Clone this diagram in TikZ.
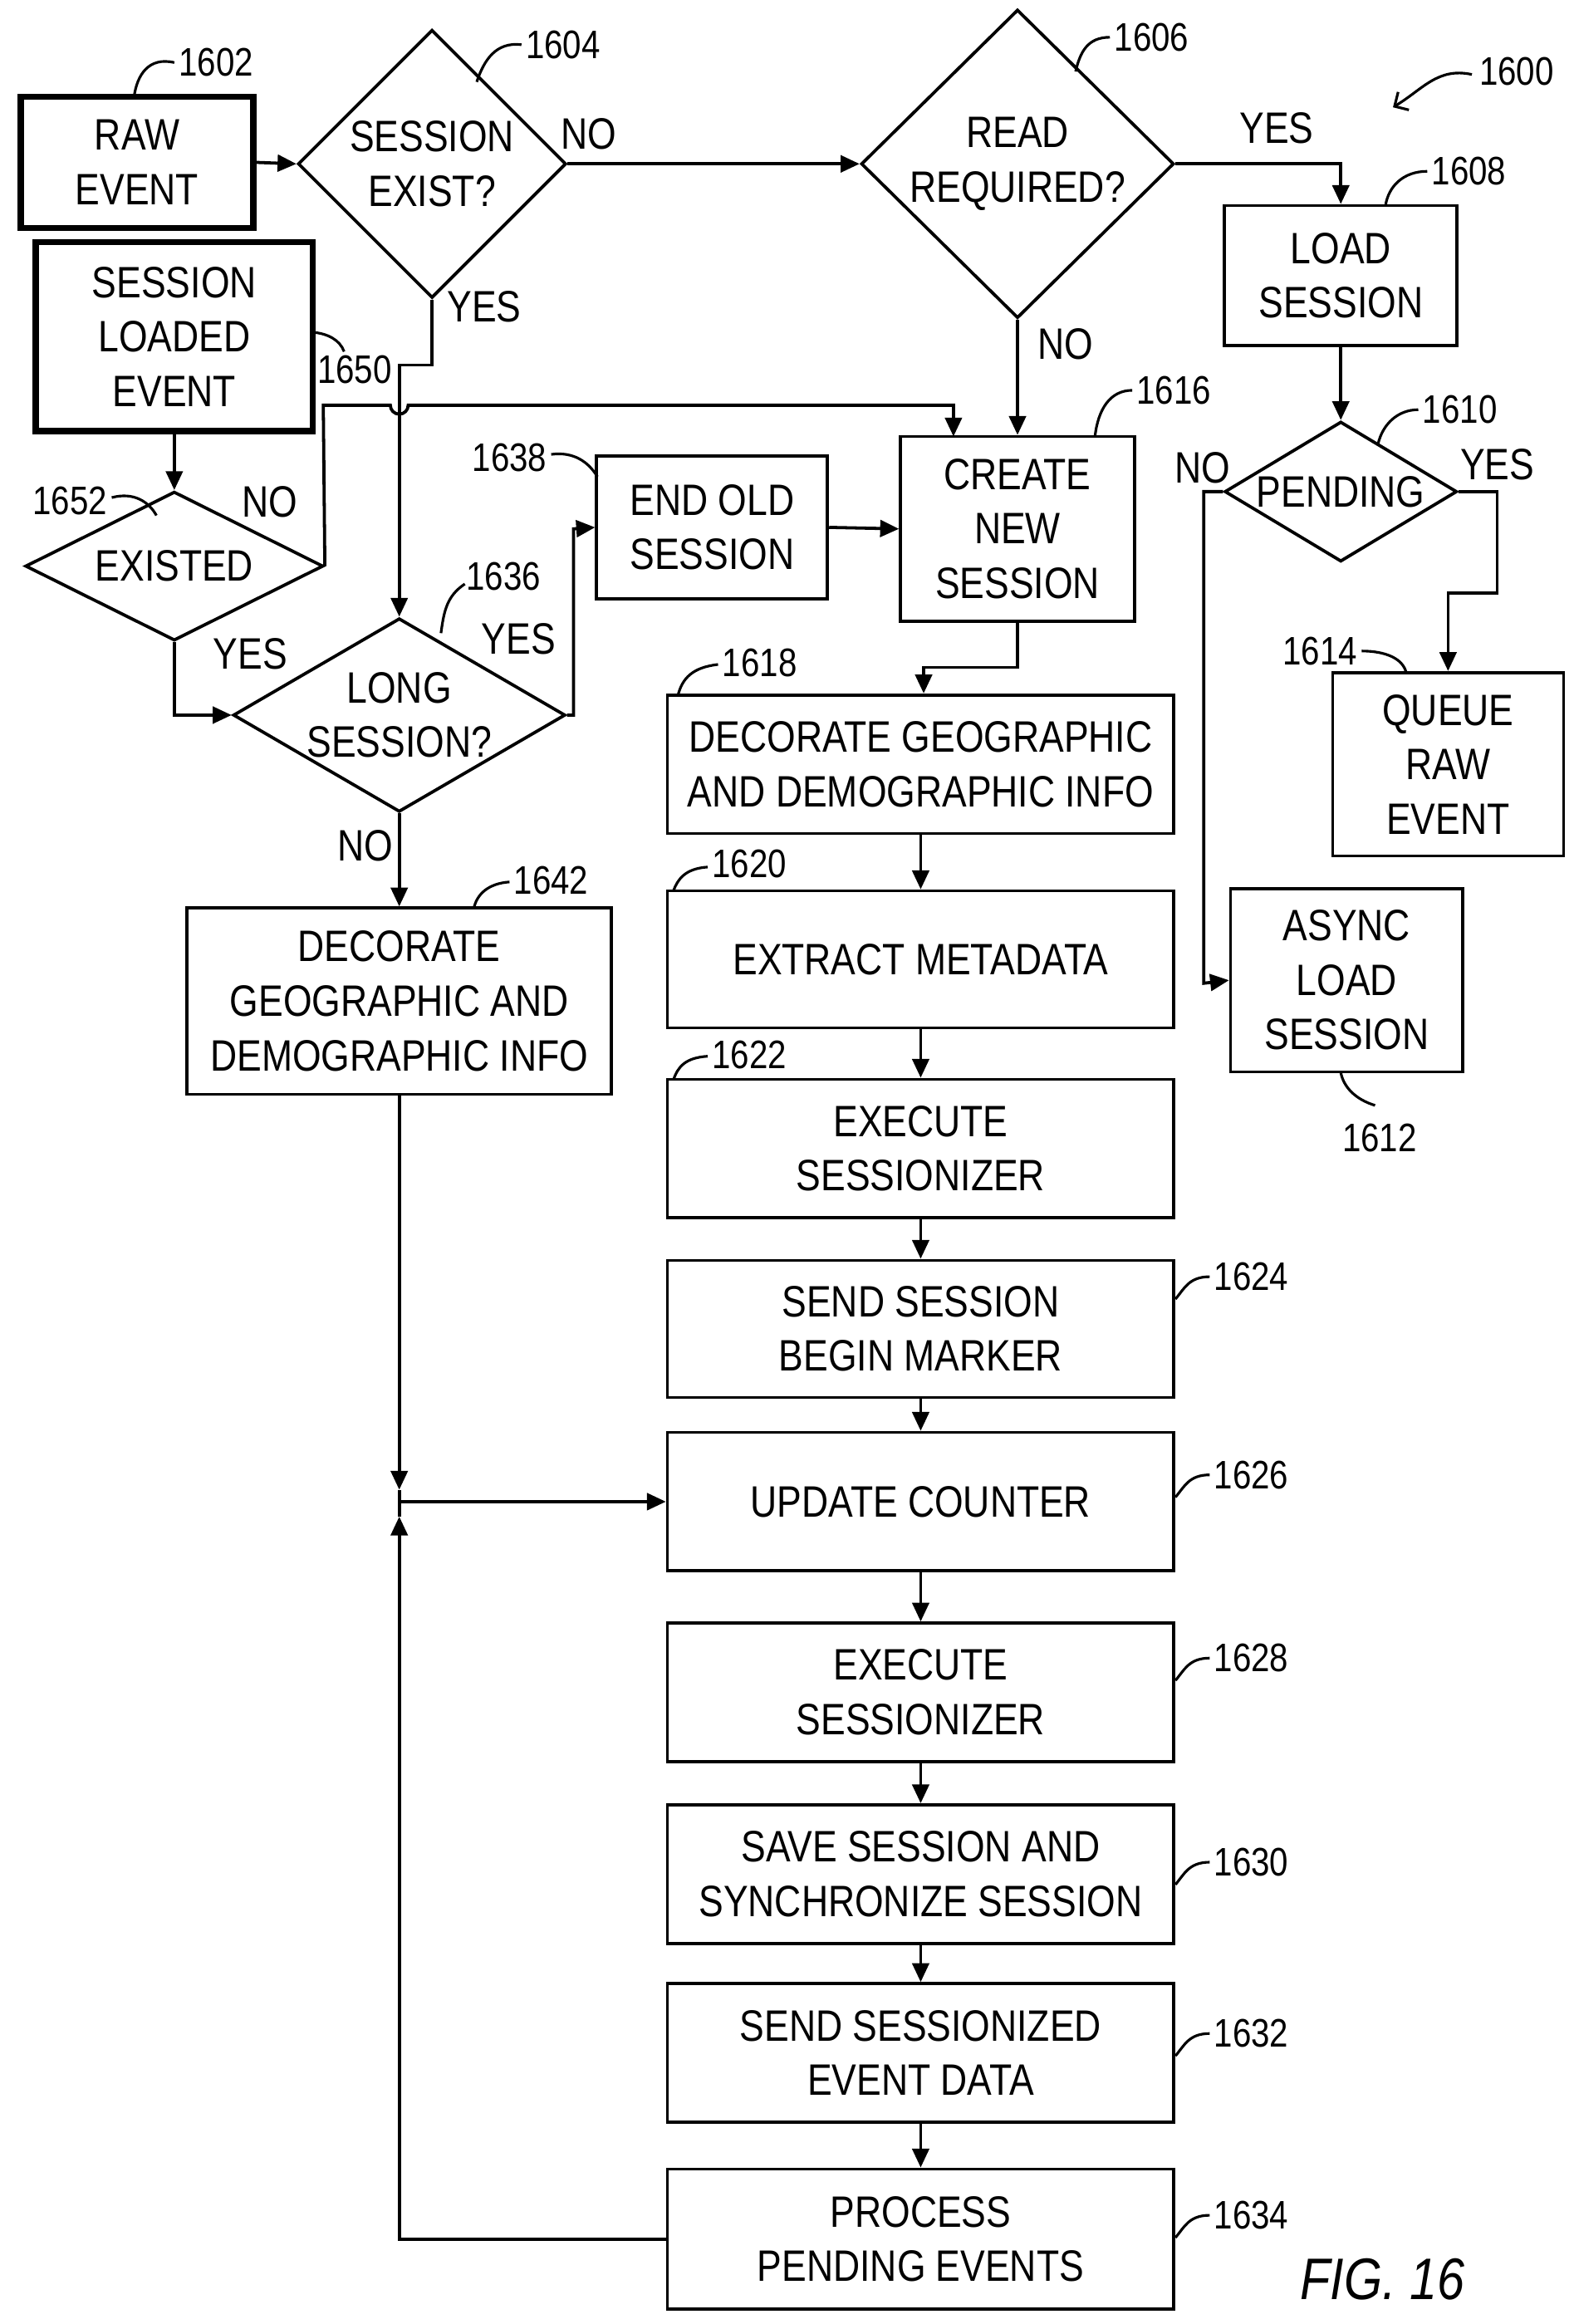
\documentclass[tikz,border=0pt]{standalone}
\usepackage{fontspec}
\setmainfont{Liberation Sans}[FakeStretch=0.84]
\usetikzlibrary{shapes.geometric,arrows.meta}
\begin{document}
\begin{tikzpicture}[x=0.05cm,y=-0.05cm,
  every node/.style={font=\fontsize{42}{52}\selectfont, align=center, inner sep=0pt},
  box/.style={draw, line width=3pt, rectangle},
  tbox/.style={draw, line width=6pt, rectangle},
  dia/.style={draw, line width=3pt, diamond, shape aspect=1},
  ln/.style={line width=3pt},
  ar/.style={line width=3pt, -{Triangle[length=18pt,width=16pt]}},
  lead/.style={line width=2.5pt},
  num/.style={font=\fontsize{38}{44}\selectfont},
  lab/.style={font=\fontsize{42}{44}\selectfont}]
\useasboundingbox (0,0) rectangle (1056,1560);
% nodes
\node[tbox, minimum width=7.8cm, minimum height=4.4cm] (raw) at (92,109) {RAW\\EVENT};
\node[tbox, minimum width=9.3cm, minimum height=6.35cm] (sle) at (117,226) {SESSION\\LOADED\\EVENT};
\node[dia, minimum width=9cm, minimum height=9cm] (sex) at (290,110) {SESSION\\EXIST?};
\node[dia, minimum width=10.5cm, minimum height=9.8cm] (rr) at (683,110) {READ\\REQUIRED?};
\node[box, minimum width=7.8cm, minimum height=4.7cm] (ls) at (900,185) {LOAD\\SESSION};
\node[dia, shape aspect=1.7, inner sep=-6pt, minimum width=7.8cm, minimum height=4.7cm] (pend) at (900,330) {PENDING};
\node[box, minimum width=7.75cm, minimum height=6.15cm] (queue) at (972,513) {QUEUE\\RAW\\EVENT};
\node[box, minimum width=7.8cm, minimum height=6.15cm] (async) at (904,658) {ASYNC\\LOAD\\SESSION};
\node[box, minimum width=7.85cm, minimum height=6.2cm] (cns) at (683,355) {CREATE\\NEW\\SESSION};
\node[box, minimum width=7.75cm, minimum height=4.8cm] (eos) at (478,354) {END OLD\\SESSION};
\node[dia, shape aspect=2, inner sep=-4pt, minimum width=10cm, minimum height=5cm] (ex) at (117,380) {EXISTED};
\node[dia, shape aspect=1.7, inner sep=-6pt, minimum width=11.15cm, minimum height=6.5cm] (long) at (268,480) {LONG\\SESSION?};
\node[box, minimum width=14.25cm, minimum height=6.25cm] (d42) at (268,672) {DECORATE\\GEOGRAPHIC AND\\DEMOGRAPHIC INFO};
\node[box, minimum width=17cm, minimum height=4.65cm] (b18) at (618,513) {DECORATE GEOGRAPHIC\\AND DEMOGRAPHIC INFO};
\node[box, minimum width=17cm, minimum height=4.6cm] (b20) at (618,644) {EXTRACT METADATA};
\node[box, minimum width=17cm, minimum height=4.65cm] (b22) at (618,771) {EXECUTE\\SESSIONIZER};
\node[box, minimum width=17cm, minimum height=4.6cm] (b24) at (618,892) {SEND SESSION\\BEGIN MARKER};
\node[box, minimum width=17cm, minimum height=4.65cm] (b26) at (618,1008) {UPDATE COUNTER};
\node[box, minimum width=17cm, minimum height=4.65cm] (b28) at (618,1136) {EXECUTE\\SESSIONIZER};
\node[box, minimum width=17cm, minimum height=4.65cm] (b30) at (618,1258) {SAVE SESSION AND\\SYNCHRONIZE SESSION};
\node[box, minimum width=17cm, minimum height=4.65cm] (b32) at (618,1378) {SEND SESSIONIZED\\EVENT DATA};
\node[box, minimum width=17cm, minimum height=4.7cm] (b34) at (618,1503) {PROCESS\\PENDING EVENTS};
\coordinate (j) at (268,1008);
\coordinate (jt) at (268,1000);
\coordinate (jb) at (268,1018);
% connectors
\draw[ar] (raw.east) -- (sex.west);
\draw[ar] (sex.east) -- (rr.west);
\draw[ar] (rr.east) -- (900,110) -- (ls.north);
\draw[ar] (rr.south) -- (cns.north);
\draw[ar] (ls.south) -- (pend.north);
\draw[ar] (pend.east) -- (1005,330) -- (1005,398) -- (972,398) -- (queue.north);
\draw[ar] (pend.west) -- (808,330) -- (808,660) -- (async.west);
\draw[ar] (sex.south) -- (290,245) -- (268,245) -- (long.north);
\draw[ar] (sle.south) -- (ex.north);
\draw[ar] (ex.east) -- (217,272) -- (262,272) arc[start angle=180,end angle=0,radius=6] -- (640,272) -- (640,293);
\draw[ar] (ex.south) -- (117,480) -- (long.west);
\draw[ar] (long.east) -- (385,480) -- (385,355) -- (eos.west);
\draw[ar] (eos.east) -- (cns.west);
\draw[ar] (long.south) -- (d42.north);
\draw[ar] (cns.south) -- (683,448) -- (620,448) -- (b18.north -| 620,0);
\draw[ar] (b18.south) -- (b20.north);
\draw[ar] (b20.south) -- (b22.north);
\draw[ar] (b22.south) -- (b24.north);
\draw[ar] (b24.south) -- (b26.north);
\draw[ar] (b26.south) -- (b28.north);
\draw[ar] (b28.south) -- (b30.north);
\draw[ar] (b30.south) -- (b32.north);
\draw[ar] (b32.south) -- (b34.north);
\draw[ar] (d42.south) -- (jt);
\draw[ar] (b34.west) -- (268,1503) -- (jb);
\draw[ln] (jt) -- (jb);
\draw[ar] (j) -- (b26.west);
% branch labels
\node[lab] (l1) at (395,90) {NO};
\node[lab] (l2) at (857,86) {YES};
\node[lab] (l3) at (715,231) {NO};
\node[lab] (l4) at (325,206) {YES};
\node[lab] (l5) at (181,337) {NO};
\node[lab] (l6) at (168,439) {YES};
\node[lab] (l7) at (348,429) {YES};
\node[lab] (l8) at (245,568) {NO};
\node[lab] (l9) at (807,314) {NO};
\node[lab] (l10) at (1005,312) {YES};
% reference numbers
\node[num] (n1600) at (1018,48) {1600};
\draw[lead,-{Straight Barb[length=10pt]}] (988,50) .. controls (965,45) and (955,60) .. (935,72);
\node[num] (n1602) at (145,42) {1602};
\draw[lead] (117,42) .. controls (100,38) and (92,50) .. (90,65);
\node[num] (n1604) at (378,30) {1604};
\draw[lead] (350,30) .. controls (333,28) and (325,40) .. (320,55);
\node[num] (n1606) at (773,25) {1606};
\draw[lead] (745,25) .. controls (730,25) and (725,35) .. (722,48);
\node[num] (n1608) at (986,115) {1608};
\draw[lead] (958,115) .. controls (942,115) and (932,125) .. (930,138);
\node[num] (n1610) at (980,275) {1610};
\draw[lead] (952,275) .. controls (938,275) and (928,285) .. (925,298);
\node[num] (n1614) at (886,437) {1614};
\draw[lead] (914,437) .. controls (930,437) and (942,442) .. (944,452);
\node[num] (n1612) at (926,764) {1612};
\draw[lead] (923,742) .. controls (910,738) and (902,730) .. (900,720);
\node[num] (n1616) at (788,262) {1616};
\draw[lead] (760,262) .. controls (745,262) and (737,275) .. (735,293);
\node[num] (n1638) at (342,307) {1638};
\draw[lead] (370,305) .. controls (385,303) and (395,310) .. (401,320);
\node[num] (n1636) at (338,387) {1636};
\draw[lead] (312,392) .. controls (300,400) and (298,410) .. (296,425);
\node[num] (n1650) at (238,248) {1650};
\draw[lead] (210,223) .. controls (220,224) and (228,228) .. (231,236);
\node[num] (n1652) at (47,336) {1652};
\draw[lead] (75,334) .. controls (90,330) and (100,337) .. (105,346);
\node[num] (n1618) at (510,445) {1618};
\draw[lead] (482,446) .. controls (465,448) and (458,455) .. (455,467);
\node[num] (n1620) at (503,580) {1620};
\draw[lead] (475,582) .. controls (460,583) and (455,590) .. (452,598);
\node[num] (n1622) at (503,708) {1622};
\draw[lead] (475,709) .. controls (460,710) and (455,716) .. (452,725);
\node[num] (n1642) at (370,591) {1642};
\draw[lead] (342,592) .. controls (328,593) and (320,600) .. (318,610);
\foreach \n/\y in {1624/857,1626/990,1628/1113,1630/1250,1632/1365,1634/1487}{
  \node[num] (n\n) at (840,\y) {\n};
  \draw[lead] (812,\y) .. controls (798,\y) and (795,\y+8) .. (789,\y+15);
}
\node[font=\fontsize{56}{60}\selectfont\itshape] (fig) at (928,1530) {FIG. 16};
\end{tikzpicture}
\end{document}
